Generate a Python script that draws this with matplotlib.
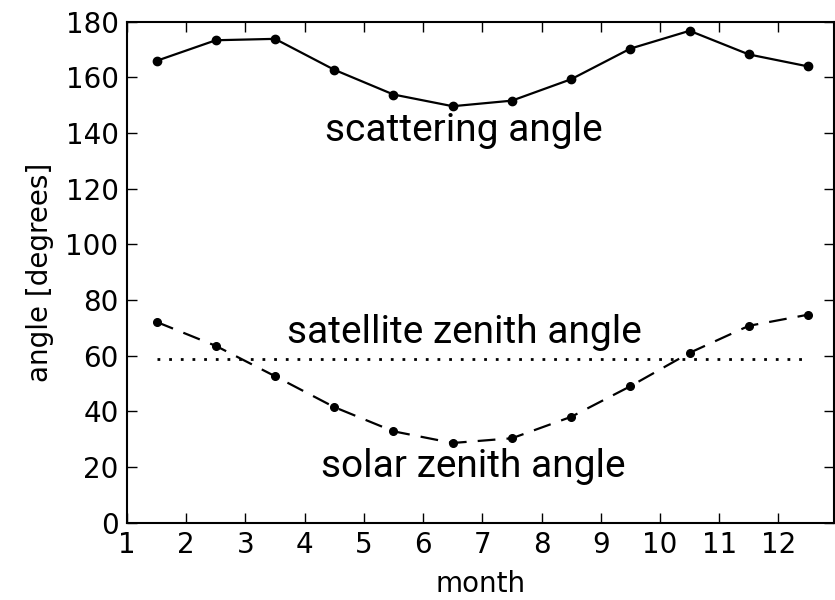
import numpy as np
import matplotlib
matplotlib.use("Agg")
import matplotlib.pyplot as plt

# monthly mean angles, plotted at mid-month
month = [1.5, 2.5, 3.5, 4.5, 5.5, 6.5, 7.5, 8.5, 9.5, 10.5, 11.5, 12.5]
scattering = [165.9, 173.3, 173.8, 162.7, 153.8, 149.6, 151.6, 159.3, 170.3, 176.7, 168.2, 163.9]
solar_zenith = [72.1, 63.5, 52.6, 41.5, 32.8, 28.6, 30.3, 38.0, 49.0, 61.0, 70.7, 74.7]
satellite_zenith = [58.8] * 12

plt.rcParams.update({"font.family": "DejaVu Sans", "font.size": 20})

fig = plt.figure(figsize=(8.35, 6.0), dpi=100)
ax = fig.add_axes([0.152, 0.129, 0.847, 0.835])

ax.plot(month, scattering, "k-", lw=1.6, marker="o", ms=6)
ax.plot(month, solar_zenith, "k--", lw=1.6, marker="o", ms=5.5, dashes=(8, 5))
ax.plot(month, satellite_zenith, "k:", lw=2, dashes=(1, 3.2))

txt = dict(family="Roboto", fontsize=28, ha="center", va="baseline")
ax.text(6.68, 137.1, "scattering angle", **txt)
ax.text(6.69, 64.6, "satellite zenith angle", **txt)
ax.text(6.84, 16.5, "solar zenith angle", **txt)

ax.set_xlim(1, 12.94)
ax.set_ylim(0, 180)
ax.set_xticks(range(1, 13))
ax.set_yticks(np.arange(0, 181, 20))
ax.tick_params(direction="in", length=7, width=1, top=True, right=True, pad=6)
for s in ax.spines.values():
    s.set_linewidth(1.5)

ax.set_xlabel("month", labelpad=8)
ax.set_ylabel("angle [degrees]", labelpad=8)

fig.savefig("out.png", dpi=100)
